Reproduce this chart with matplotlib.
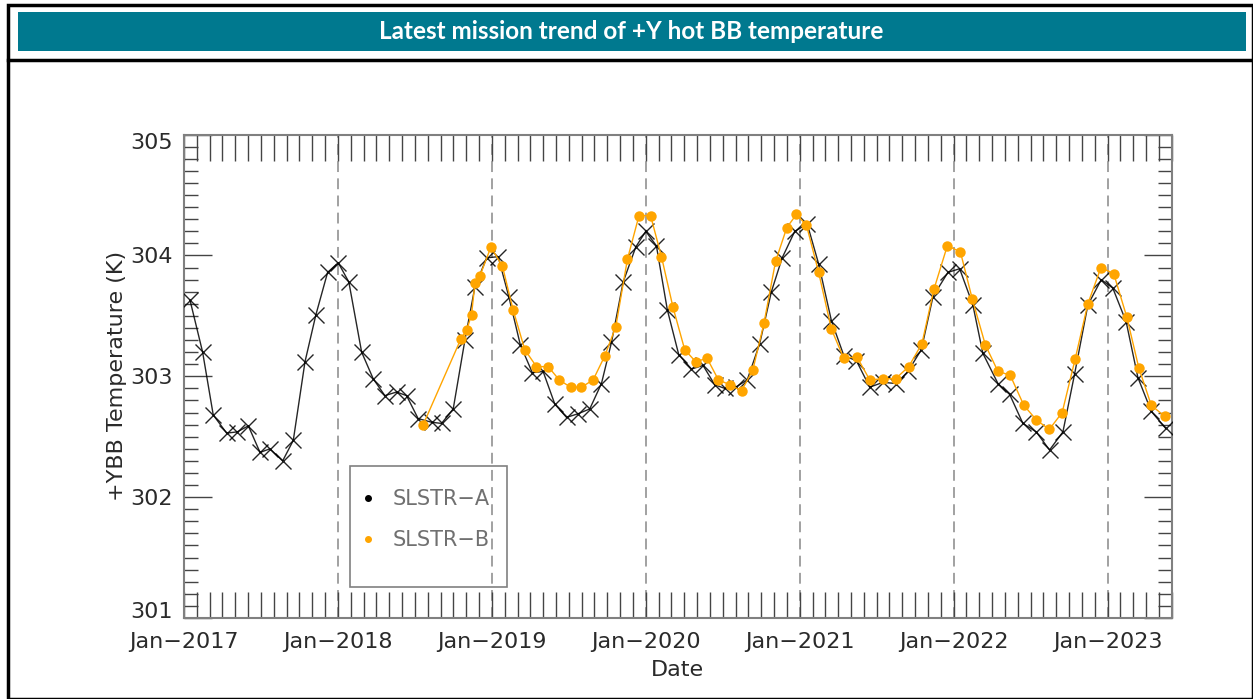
import matplotlib
matplotlib.use("Agg")
import matplotlib.pyplot as plt
import matplotlib.transforms as mtransforms
from matplotlib.patches import Rectangle
from matplotlib.lines import Line2D
import numpy as np

# data (decimal year, temperature in K)
a_time = [2017.039, 2017.121, 2017.190, 2017.277, 2017.346, 2017.418, 2017.494, 2017.558,
          2017.641, 2017.710, 2017.786, 2017.857, 2017.933, 2018.002, 2018.071, 2018.154,
          2018.229, 2018.305, 2018.381, 2018.446, 2018.521, 2018.608, 2018.673, 2018.749,
          2018.825, 2018.890, 2018.966, 2019.041, 2019.110, 2019.185, 2019.263, 2019.333,
          2019.409, 2019.485, 2019.560, 2019.636, 2019.712, 2019.777, 2019.853, 2019.935,
          2020.000, 2020.069, 2020.140, 2020.214, 2020.297, 2020.372, 2020.448, 2020.513,
          2020.583, 2020.659, 2020.740, 2020.816, 2020.886, 2020.968, 2021.049, 2021.123,
          2021.206, 2021.287, 2021.368, 2021.455, 2021.541, 2021.628, 2021.703, 2021.790,
          2021.866, 2021.963, 2022.039, 2022.125, 2022.190, 2022.288, 2022.364, 2022.450,
          2022.537, 2022.623, 2022.710, 2022.786, 2022.872, 2022.959, 2023.034, 2023.121,
          2023.197, 2023.284, 2023.377]
a_temp = [303.63, 303.20, 302.68, 302.53, 302.54, 302.59, 302.37, 302.40,
          302.30, 302.47, 303.12, 303.51, 303.86, 303.94, 303.78, 303.20,
          302.98, 302.84, 302.87, 302.84, 302.65, 302.62, 302.61, 302.73,
          303.30, 303.74, 303.98, 303.99, 303.66, 303.26, 303.03, 303.04,
          302.77, 302.66, 302.69, 302.73, 302.94, 303.28, 303.78, 304.07,
          304.20, 304.08, 303.55, 303.18, 303.06, 303.09, 302.93, 302.90,
          302.91, 302.97, 303.27, 303.70, 303.98, 304.20, 304.26, 303.93,
          303.46, 303.17, 303.13, 302.91, 302.95, 302.94, 303.04, 303.22,
          303.66, 303.86, 303.89, 303.59, 303.19, 302.94, 302.85, 302.61,
          302.54, 302.39, 302.54, 303.02, 303.59, 303.80, 303.73, 303.45,
          302.99, 302.71, 302.57]

b_time = [2018.554, 2018.799, 2018.836, 2018.868, 2018.890, 2018.922, 2018.994, 2019.069,
          2019.138, 2019.214, 2019.290, 2019.366, 2019.438, 2019.511, 2019.582, 2019.658,
          2019.734, 2019.805, 2019.881, 2019.956, 2020.031, 2020.102, 2020.177, 2020.253,
          2020.325, 2020.398, 2020.472, 2020.547, 2020.622, 2020.695, 2020.768, 2020.843,
          2020.916, 2020.979, 2021.044, 2021.123, 2021.206, 2021.286, 2021.372, 2021.455,
          2021.541, 2021.623, 2021.708, 2021.794, 2021.872, 2021.959, 2022.044, 2022.121,
          2022.206, 2022.288, 2022.367, 2022.456, 2022.537, 2022.621, 2022.705, 2022.789,
          2022.872, 2022.957, 2023.040, 2023.125, 2023.203, 2023.284, 2023.370]
b_temp = [302.60, 303.31, 303.38, 303.51, 303.77, 303.83, 304.07, 303.91,
          303.55, 303.22, 303.08, 303.08, 302.97, 302.91, 302.91, 302.97,
          303.17, 303.41, 303.97, 304.33, 304.33, 303.99, 303.57, 303.22,
          303.12, 303.15, 302.97, 302.93, 302.88, 303.05, 303.44, 303.95,
          304.23, 304.34, 304.25, 303.86, 303.39, 303.15, 303.16, 302.97,
          302.98, 302.98, 303.08, 303.27, 303.72, 304.08, 304.03, 303.64,
          303.26, 303.04, 303.01, 302.76, 302.64, 302.56, 302.70, 303.14,
          303.60, 303.90, 303.85, 303.49, 303.07, 302.76, 302.67]

years = [2017, 2018, 2019, 2020, 2021, 2022, 2023]
year_labels = ['Jan\u22122017', 'Jan\u22122018', 'Jan\u22122019', 'Jan\u22122020',
               'Jan\u22122021', 'Jan\u22122022', 'Jan\u22122023']
y_ticks = [301, 302, 303, 304, 305]

title = 'Latest mission trend of +Y hot BB temperature'
teal = '#00798f'
orange = '#ffa500'
txt_col = '#2a2a2a'

fig = plt.figure(figsize=(12.53, 6.99), dpi=100)
W, H = 1253, 699

# outer panel box and header bar (pixel coords -> figure fraction)
def fx(px):
    return px / W

def fy(py):
    return 1 - py / H

fig.add_artist(Rectangle((fx(8), fy(699)), fx(1253) - fx(8), fy(5) - fy(699),
                         transform=fig.transFigure, fill=False, ec='black', lw=2.5))
fig.add_artist(Line2D([fx(8), 1], [fy(60), fy(60)], transform=fig.transFigure,
                      color='black', lw=2.5))
fig.add_artist(Rectangle((fx(18), fy(51)), fx(1246) - fx(18), fy(12) - fy(51),
                         transform=fig.transFigure, fc=teal, ec='none'))
fig.text(fx(631), fy(31.5), title, color='white', fontsize=17.5, fontweight='bold',
         family='Lato', ha='center', va='center')

ax = fig.add_axes([fx(184), fy(618), fx(1171.7) - fx(184), fy(134.6) - fy(618)])

ax.plot(a_time, a_temp, color='black', lw=1.0, alpha=0.85, marker='x',
        markersize=12, markeredgewidth=1.0, zorder=3)
ax.plot(b_time, b_temp, color=orange, lw=1.0, marker='o', markersize=7.5,
        markeredgewidth=0, zorder=4)

for yr in years[1:]:
    ax.axvline(yr, color='#9a9a9a', lw=1.3, ls=(0, (6, 3.5)), zorder=1)

ax.set_xlim(2017, 2017 + 77 / 12)
ax.set_ylim(301, 305)

ax.set_xticks(years)
ax.set_xticklabels(year_labels)
ax.set_xticks(np.arange(2017, 2023.42, 1 / 12), minor=True)
ax.set_yticks(y_ticks)
ax.set_yticks(np.arange(301, 305.01, 0.1), minor=True)

ax.tick_params(axis='x', which='both', direction='in', length=19, width=1.0,
               color='#444444', top=True, bottom=True, pad=10,
               labelsize=16, labelcolor=txt_col)
ax.tick_params(axis='y', which='major', direction='in', length=20, width=1.0,
               color='#444444', left=True, right=True, pad=8,
               labelsize=16, labelcolor=txt_col)
ax.tick_params(axis='y', which='minor', direction='in', length=10, width=1.0,
               color='#444444', left=True, right=True)

# end labels on the y axis are pulled inside the frame
ylabs = ax.get_yticklabels()
down = mtransforms.ScaledTranslation(0, -6 / 100, fig.dpi_scale_trans)
up = mtransforms.ScaledTranslation(0, 8 / 100, fig.dpi_scale_trans)
ylabs[-1].set_transform(ylabs[-1].get_transform() + down)
ylabs[0].set_transform(ylabs[0].get_transform() + up)

for s in ax.spines.values():
    s.set_color('#808080')
    s.set_linewidth(1.5)

ax.set_xlabel('Date', fontsize=16, color=txt_col, labelpad=6)
ax.set_ylabel('+YBB Temperature (K)', fontsize=16, color=txt_col, labelpad=2)

# legend: dots only, in a plain box
handles = [Line2D([], [], ls='none', marker='o', color='black', markersize=4),
           Line2D([], [], ls='none', marker='o', color=orange, markersize=4)]
leg = ax.legend(handles, ['SLSTR\u2212A', 'SLSTR\u2212B'], loc='upper left',
                bbox_to_anchor=(0.163, 0.292), frameon=False, fontsize=15,
                labelcolor='#707070', handletextpad=0.7, labelspacing=1.0,
                handlelength=1.0, borderaxespad=0.2)
ax.add_patch(Rectangle((0.168, 0.064), 0.159, 0.25, transform=ax.transAxes,
                       fill=False, ec='#808080', lw=1.2, zorder=5))

fig.savefig('out.png', dpi=100)
